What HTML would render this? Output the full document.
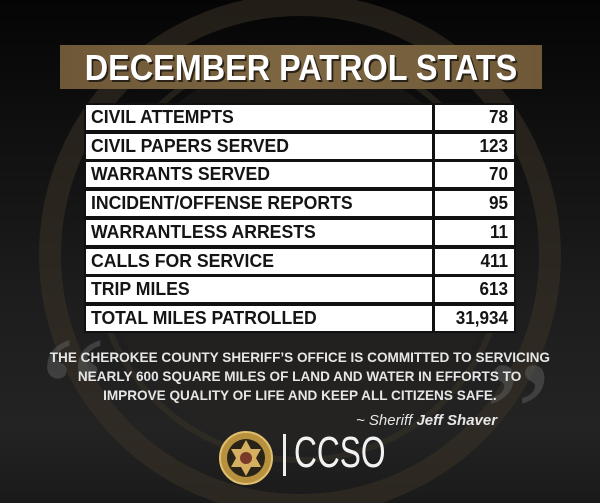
<!DOCTYPE html>
<html><head><meta charset="utf-8"><style>
body{margin:0;width:600px;height:503px;overflow:hidden;background:#151515;font-family:"Liberation Sans",sans-serif}
#bg{position:absolute;left:0;top:0;width:600px;height:503px;background:linear-gradient(#050505 0%,#1d1d1d 60%,#232323 85%,#1a1a1a 100%)}
.t{position:absolute;white-space:nowrap}
#title{position:absolute;left:60px;top:45px;width:482px;height:44px;background:linear-gradient(90deg,#6e5837,#7e6742,#6e5837)}
#title span{position:absolute;left:0;width:482px;text-align:center;top:2px;font-size:36px;font-weight:bold;color:#fff;text-shadow:2px 2px 0 #2a2218;transform:scaleX(0.9);white-space:nowrap}
.row{position:absolute;left:86px;width:428px;height:25px;background:#fff;outline:2px solid #111}
.row .l{position:absolute;left:5px;top:2px;font-size:18px;font-weight:bold;color:#141414;transform-origin:left;transform:scaleX(0.98)}
.row .v{position:absolute;right:6px;top:2px;font-size:18px;font-weight:bold;color:#141414;transform-origin:right;transform:scaleX(0.95)}
.row .d{position:absolute;left:346px;top:0;width:3px;height:25px;background:#111}
.q{position:absolute;left:0;width:600px;text-align:center;font-size:14px;font-weight:bold;color:#e6e6e6;white-space:nowrap}
.q span{display:inline-block;transform:scaleX(0.97)}
</style></head><body>
<div id="bg"></div>
<svg style="position:absolute;left:0;top:0" width="600" height="503">
<circle cx="300" cy="255" r="250" fill="none" stroke="#3a3327" stroke-width="22" opacity="0.55"/>
<circle cx="300" cy="255" r="205" fill="none" stroke="#3a3327" stroke-width="6" opacity="0.5"/>
<circle cx="300" cy="255" r="195" fill="#2a2620" opacity="0.35"/>
</svg>
<div class="t" style="left:40px;top:315px;font-size:150px;line-height:150px;color:#666;opacity:0.45;font-family:'Liberation Serif',serif">“</div>
<div class="t" style="left:485px;top:340px;font-size:150px;line-height:150px;color:#666;opacity:0.45;font-family:'Liberation Serif',serif">”</div>
<div id="title"><span>DECEMBER PATROL STATS</span></div>
<div id="table"></div>
<div class="q" style="top:349px"><span>THE CHEROKEE COUNTY SHERIFF’S OFFICE IS COMMITTED TO SERVICING</span></div>
<div class="q" style="top:368px"><span>NEARLY 600 SQUARE MILES OF LAND AND WATER IN EFFORTS TO</span></div>
<div class="q" style="top:387px"><span>IMPROVE QUALITY OF LIFE AND KEEP ALL CITIZENS SAFE.</span></div>
<div class="t" style="left:356px;top:412px;font-size:15px;color:#e6e6e6;font-style:italic">~ Sheriff <b>Jeff Shaver</b></div>
<svg style="position:absolute;left:218px;top:430px" width="56" height="56">
<circle cx="28" cy="28" r="26" fill="#b8913f" stroke="#e0c070" stroke-width="2"/>
<circle cx="28" cy="28" r="19" fill="#2a2418"/>
<polygon points="28,10 33,19 43,19 38,28 43,37 33,37 28,46 23,37 13,37 18,28 13,19 23,19" fill="#d4b060"/>
<circle cx="28" cy="28" r="6" fill="#7a3a2a"/>
</svg>
<div style="position:absolute;left:283px;top:434px;width:3px;height:42px;background:#eee"></div>
<div class="t" style="left:294px;top:428px;font-size:44px;color:#f2f2f2;transform-origin:left;transform:scaleX(0.72)">CCSO</div>
<script>
const labels=["CIVIL ATTEMPTS","CIVIL PAPERS SERVED","WARRANTS SERVED","INCIDENT/OFFENSE REPORTS","WARRANTLESS ARRESTS","CALLS FOR SERVICE","TRIP MILES","TOTAL MILES PATROLLED"];
const values=["78","123","70","95","11","411","613","31,934"];
const tbl=document.getElementById('table');
labels.forEach((lab,i)=>{
const r=document.createElement('div');r.className='row';r.style.top=(105+i*28.7)+'px';


const l=document.createElement('div');l.className='t l';l.textContent=lab;


const d=document.createElement('div');d.className='d';


const v=document.createElement('div');v.className='t v';v.textContent=values[i];


r.append(l,d,v);tbl.appendChild(r);});
</script>
</body></html>
